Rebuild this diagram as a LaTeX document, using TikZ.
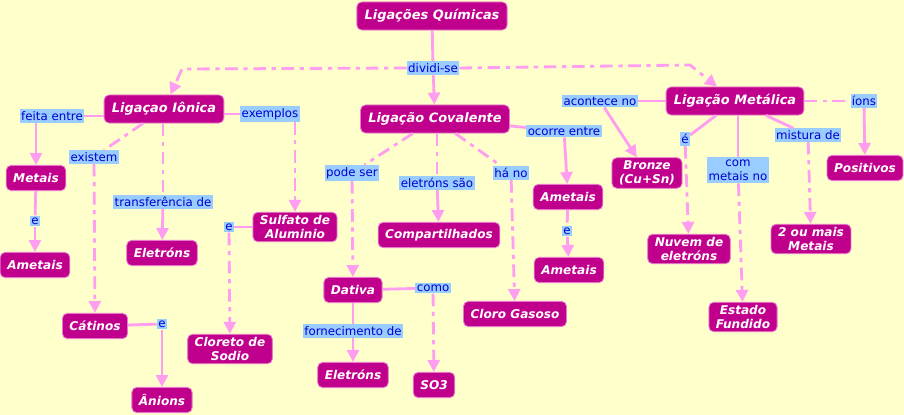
\documentclass[tikz,border=0pt]{standalone}
\usepackage{fontspec}
\setmainfont{DejaVu Sans}
\usetikzlibrary{arrows.meta}

\definecolor{fundo}{RGB}{255,255,204}
\definecolor{magenta}{RGB}{192,0,140}
\definecolor{borda}{RGB}{232,120,205}
\definecolor{linha}{RGB}{255,158,240}
\definecolor{realce}{RGB}{153,204,255}
\definecolor{azul}{RGB}{0,0,205}

\begin{document}
\begin{tikzpicture}[x=0.025cm, y=-0.025cm,
		conceito/.style={draw=borda, line width=0.6pt, fill=magenta, text=white, rounded corners=3.5pt,
			font=\fontsize{8.6}{10.3}\selectfont\bfseries\itshape, align=center,
			inner xsep=5pt, inner ysep=2pt, minimum height=0.63cm},
		principal/.style={conceito, font=\fontsize{9.2}{10.5}\selectfont\bfseries\itshape, minimum height=0.7cm, inner xsep=5.5pt},
		rotulo/.style={fill=realce, text=azul, font=\fontsize{8.4}{9.8}\selectfont, align=center,
			inner xsep=1pt, inner ysep=1.4pt},
		liga/.style={draw=linha, line width=2pt},
		tracejada/.style={liga, dash pattern=on 9pt off 4pt on 3pt off 4pt},
		seta/.style={-{Triangle[length=8.5pt,width=8.5pt]}}]
		% Fond et cadre
		\fill[fundo] (0,0) rectangle (904,415);
		\useasboundingbox (0,0) rectangle (904,415);

		% Conceitos principais
		\node[principal] (quimicas) at (432,16) {Ligações Químicas};
		\node[rotulo] (dividi) at (433,68) {dividi-se};
		\node[principal] (ionica) at (164,109) {Ligaçao Iônica};
		\node[principal] (covalente) at (435,119) {Ligação Covalente};
		\node[principal] (metalica) at (735,101) {Ligação Metálica};

		% Ligação iônica
		\node[rotulo] (feita) at (52,116) {feita entre};
		\node[conceito] (metais) at (36,178) {Metais};
		\node[rotulo] (e1) at (35,221) {e};
		\node[conceito] (ametais1) at (35,265) {Ametais};
		\node[rotulo] (existem) at (94,157) {existem};
		\node[conceito] (catinos) at (95,326) {Cátinos};
		\node[rotulo] (e2) at (162,324) {e};
		\node[conceito] (anions) at (162,400) {Ânions};
		\node[rotulo] (transf) at (163,202) {transferência de};
		\node[conceito] (eletrons1) at (162,253) {Eletróns};
		\node[rotulo] (exemplos) at (270,114) {exemplos};
		\node[conceito] (sulfato) at (295,227) {Sulfato de\\Aluminio};
		\node[rotulo] (e3) at (229,227) {e};
		\node[conceito] (cloreto) at (230,349) {Cloreto de\\Sodio};

		% Ligação covalente
		\node[rotulo] (podeser) at (352,173) {pode ser};
		\node[conceito] (dativa) at (353,290) {Dativa};
		\node[rotulo] (como) at (433,288) {como};
		\node[conceito] (so3) at (434,385) {SO3};
		\node[rotulo] (fornec) at (353,331) {fornecimento de};
		\node[conceito] (eletrons2) at (353,375) {Eletróns};
		\node[rotulo] (sao) at (437,183) {eletróns são};
		\node[conceito] (compart) at (439,235) {Compartilhados};
		\node[rotulo] (hano) at (511,173) {há no};
		\node[conceito] (cloro) at (515,314) {Cloro Gasoso};
		\node[rotulo] (ocorre) at (564,131) {ocorre entre};
		\node[conceito] (ametais2) at (568,197) {Ametais};
		\node[rotulo] (e4) at (567,231) {e};
		\node[conceito] (ametais3) at (569,270) {Ametais};

		% Ligação metálica
		\node[rotulo] (acontece) at (600,101) {acontece no};
		\node[conceito] (bronze) at (647,173) {Bronze\\(Cu+Sn)};
		\node[rotulo] (eh) at (685,139) {é};
		\node[conceito] (nuvem) at (689,249) {Nuvem de\\eletróns};
		\node[rotulo, inner ysep=2pt] (commetais) at (738,170) {com\\metais no};
		\node[conceito] (fundido) at (743,317) {Estado\\Fundido};
		\node[rotulo] (mistura) at (808,135) {mistura de};
		\node[conceito] (doisou) at (811,239) {2 ou mais\\Metais};
		\node[rotulo] (ions) at (864,101) {íons};
		\node[conceito] (positivos) at (865,168) {Positivos};

		% Liens du concept principal
		\coordinate (dobraI) at (182,69);
		\coordinate (dobraM) at (690,65);
		\draw[liga] (quimicas) -- (dividi);
		\draw[liga, seta] (dividi) -- (covalente);
		\draw[tracejada, seta] (dividi.west) -- (dobraI) -- (ionica);
		\draw[tracejada, seta] (dividi.east) -- (dobraM) -- (metalica);

		% Liens de la liaison ionique
		\draw[liga] (ionica.west |- feita) -- (feita);
		\draw[liga, seta] (feita.south -| metais) -- (metais);
		\draw[liga] (metais) -- (e1);
		\draw[liga, seta] (e1) -- (ametais1);
		\draw[tracejada] (ionica) -- (existem);
		\draw[tracejada, seta] (existem) -- (catinos);
		\draw[liga] (catinos) -- (e2);
		\draw[liga, seta] (e2) -- (anions);
		\draw[tracejada] (ionica.south -| transf) -- (transf);
		\draw[liga, seta] (transf) -- (eletrons1);
		\draw[liga] (ionica.east |- exemplos) -- (exemplos);
		\draw[tracejada, seta] (exemplos.south -| sulfato) -- (sulfato);
		\draw[liga] (sulfato) -- (e3);
		\draw[tracejada, seta] (e3) -- (cloreto);

		% Liens de la liaison covalente
		\draw[tracejada] (covalente) -- (podeser);
		\draw[tracejada, seta] (podeser) -- (dativa);
		\draw[liga] (dativa) -- (como);
		\draw[tracejada, seta] (como) -- (so3);
		\draw[liga] (dativa) -- (fornec);
		\draw[liga, seta] (fornec) -- (eletrons2);
		\draw[tracejada] (covalente.south -| sao) -- (sao);
		\draw[liga, seta] (sao) -- (compart);
		\draw[tracejada] (covalente) -- (hano);
		\draw[tracejada, seta] (hano) -- (cloro);
		\draw[liga] (covalente) -- (ocorre);
		\draw[liga, seta] (ocorre) -- (ametais2);
		\draw[tracejada] (ametais2) -- (e4);
		\draw[tracejada, seta] (e4) -- (ametais3);

		% Liens de la liaison métallique
		\draw[liga] (metalica) -- (acontece);
		\draw[liga, seta] (acontece) -- (bronze);
		\draw[liga] (metalica) -- (eh);
		\draw[tracejada, seta] (eh) -- (nuvem);
		\draw[liga] (metalica.south -| commetais) -- (commetais);
		\draw[tracejada, seta] (commetais) -- (fundido);
		\draw[liga] (metalica) -- (mistura);
		\draw[tracejada, seta] (mistura) -- (doisou);
		\draw[tracejada] (metalica) -- (ions);
		\draw[liga, seta] (ions) -- (positivos);
	\end{tikzpicture}
\end{document}
